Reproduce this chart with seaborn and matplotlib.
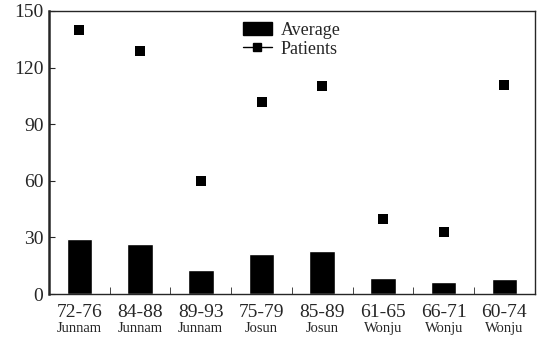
import numpy as np
import pandas as pd
import matplotlib
matplotlib.use('Agg')
import matplotlib.pyplot as plt
import matplotlib.transforms as mtransforms
from matplotlib.lines import Line2D
from matplotlib.patches import Patch
import seaborn as sns

periods = ['72-76', '84-88', '89-93', '75-79', '85-89', '61-65', '66-71', '60-74']
regions = ['Junnam', 'Junnam', 'Junnam', 'Josun', 'Josun', 'Wonju', 'Wonju', 'Wonju']
average = [29, 26.5, 13, 21, 23, 8.5, 6.5, 8]
patients = [140, 129, 60, 102, 110, 40, 33, 111]
yticks = [0, 30, 60, 90, 120, 150]

data = pd.DataFrame({'Period': periods, 'Region': regions,
                     'Average': average, 'Patients': patients})

sns.set_style('ticks')
plt.rcParams['font.family'] = ['Liberation Serif', 'DejaVu Serif']

fig, ax = plt.subplots(figsize=(5.38, 3.42), dpi=100)
fig.subplots_adjust(left=0.091, right=0.994, top=0.968, bottom=0.14)

sns.barplot(data=data, x='Period', y='Average', order=periods, color='black',
            width=0.42, saturation=1, ax=ax)
sns.scatterplot(data=data, x='Period', y='Patients', marker='s', color='black',
                s=55, edgecolor='black', linewidth=0, ax=ax)

ax.set_xlim(-0.5, len(periods) - 0.5)
ax.set_ylim(0, 150)
ax.set_yticks(yticks)
ax.set_xlabel('')
ax.set_ylabel('')

ax.tick_params(axis='y', direction='in', length=4, labelsize=14, pad=4)
ax.tick_params(axis='x', which='major', length=0, labelsize=14, pad=7)
ax.set_xticks(np.arange(len(periods) - 1) + 0.5, minor=True)
ax.tick_params(axis='x', which='minor', direction='in', length=5)

trans = mtransforms.blended_transform_factory(ax.transData, ax.transAxes)
for i, r in enumerate(regions):
    ax.text(i, -0.1, r, transform=trans, ha='center', va='top', fontsize=10.5)

for side in ['top', 'right', 'bottom']:
    ax.spines[side].set_linewidth(1.0)
ax.spines['left'].set_linewidth(1.8)

handles = [Patch(facecolor='black', edgecolor='black', label='Average'),
           Line2D([], [], color='black', marker='s', markersize=6, lw=1, label='Patients')]
leg = ax.legend(handles=handles, loc='upper center', bbox_to_anchor=(0.5, 1.0),
                frameon=False, fontsize=13, handlelength=1.6, handletextpad=0.5,
                labelspacing=0.1, borderaxespad=0.2)

plt.savefig('out.png', dpi=100)
